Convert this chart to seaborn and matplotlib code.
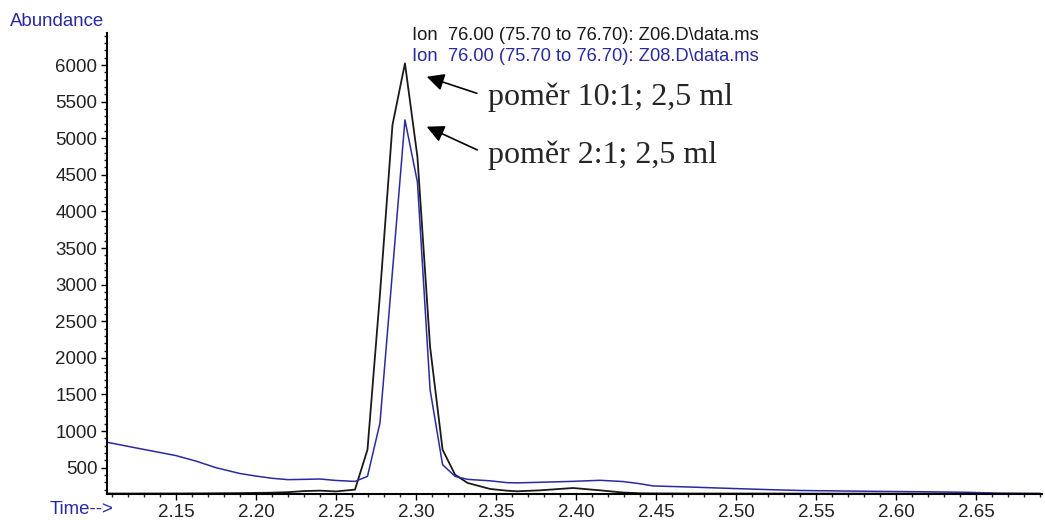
import matplotlib
matplotlib.use("Agg")
import matplotlib.pyplot as plt
import seaborn as sns
from matplotlib.ticker import MultipleLocator, FormatStrFormatter

# Data (time in min, abundance)
time_min = [2.1075, 2.125, 2.15, 2.1625, 2.175, 2.19, 2.20, 2.21, 2.22, 2.23,
            2.24, 2.25, 2.2619, 2.2697, 2.2775, 2.2853, 2.2931, 2.3009, 2.3088,
            2.3166, 2.3244, 2.3322, 2.3463, 2.3569, 2.3631, 2.3775, 2.3981,
            2.415, 2.4294, 2.44, 2.4481, 2.4713, 2.4981, 2.52, 2.54, 2.5819,
            2.62, 2.6444, 2.665, 2.69]

z06_abund = [146, 146, 147, 148, 150, 152, 155, 158, 165, 180,
             186, 175, 200, 746, 2870, 5180, 6023, 4744, 2150,
             746, 404, 291, 209, 185, 177, 190, 222,
             190, 160, 150, 148, 146, 146, 146, 145, 145,
             145, 145, 145, 145]

z08_abund = [845, 770, 665, 590, 500, 420, 385, 355, 336, 340,
             345, 325, 312, 381, 1110, 3180, 5250, 4400, 1565,
             541, 381, 340, 320, 295, 292, 300, 313,
             327, 310, 280, 250, 235, 215, 200, 188, 177,
             170, 163, 150, 145]

trace_labels = ["Ion  76.00 (75.70 to 76.70): Z06.D\\data.ms",
                "Ion  76.00 (75.70 to 76.70): Z08.D\\data.ms"]
notes = ["poměr 10:1; 2,5 ml", "poměr 2:1; 2,5 ml"]

BLUE = "#2a2aa0"
BLACK = "#1a1a1a"

sns.set_style("ticks")
plt.rcParams["font.family"] = ["Liberation Sans", "DejaVu Sans"]

fig = plt.figure(figsize=(10.45, 5.2), dpi=100)
ax = fig.add_axes([107 / 1045, 0.05, (1042 - 107) / 1045, 0.8865])

sns.lineplot(x=time_min, y=z06_abund, color=BLACK, lw=1.3, ax=ax)
sns.lineplot(x=time_min, y=z08_abund, color=BLUE, lw=1.1, ax=ax)

ax.set_xlim(2.107, 2.691)
ax.set_ylim(140, 6437)
ax.xaxis.set_major_locator(MultipleLocator(0.05))
ax.xaxis.set_minor_locator(MultipleLocator(0.01))
ax.yaxis.set_major_locator(MultipleLocator(500))
ax.yaxis.set_minor_locator(MultipleLocator(100))
ax.xaxis.set_major_formatter(FormatStrFormatter("%.2f"))
ax.tick_params(axis="both", which="major", direction="out", length=4, width=1,
               labelsize=13.5, colors="black", labelcolor="#222222", pad=3)
ax.tick_params(axis="both", which="minor", direction="out", length=2.5, width=1)

sns.despine(ax=ax)
for side in ["left", "bottom"]:
    ax.spines[side].set_linewidth(1.5)
    ax.spines[side].set_color("black")

ax.set_xlabel("")
ax.set_ylabel("")

fig.text(10 / 1045, 1 - 22 / 520, "Abundance", color=BLUE, fontsize=13.4,
         ha="left", va="center")
fig.text(50 / 1045, 1 - 510 / 520, "Time-->", color=BLUE, fontsize=13.4,
         ha="left", va="center")

fig.text(412 / 1045, 1 - 35 / 520, trace_labels[0], color=BLACK, fontsize=13.2,
         ha="left", va="center")
fig.text(412 / 1045, 1 - 56 / 520, trace_labels[1], color=BLUE, fontsize=13.2,
         ha="left", va="center")

arrow_kw = dict(arrowstyle="-|>", color="black", lw=1.2, mutation_scale=26,
                shrinkA=6, shrinkB=0, relpos=(0, 0.5))
ax.annotate(notes[0], xy=(2.3067, 5840), xytext=(2.345, 5563),
            fontsize=23, family=["Liberation Serif", "DejaVu Serif"],
            ha="left", va="center", arrowprops=arrow_kw)
ax.annotate(notes[1], xy=(2.3067, 5158), xytext=(2.345, 4772),
            fontsize=23, family=["Liberation Serif", "DejaVu Serif"],
            ha="left", va="center", arrowprops=arrow_kw)

fig.savefig("out.png", dpi=100)
